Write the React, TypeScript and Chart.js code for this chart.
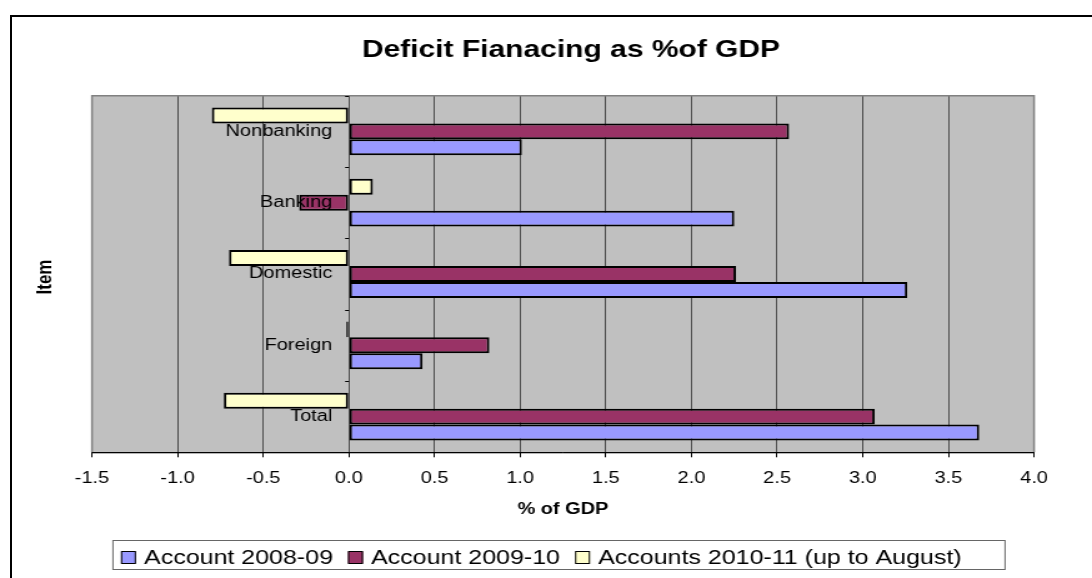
import React, { useEffect, useRef } from 'react';
import { Chart, registerables } from 'chart.js';

Chart.register(...registerables);

// ---- data (categories listed top to bottom as shown) ----
const categories = ['Nonbanking', 'Banking', 'Domestic', 'Foreign', 'Total'];
const account0809 = [1.01, 2.25, 3.26, 0.43, 3.68];
const account0910 = [2.57, -0.29, 2.26, 0.82, 3.07];
const accounts1011 = [-0.8, 0.14, -0.7, -0.015, -0.73];
const seriesLabels = ['Account 2008-09', 'Account 2009-10', 'Accounts 2010-11 (up to August)'];
const seriesColors = ['#9999FF', '#993366', '#FFFFCC'];
const xTickValues = [-1.5, -1.0, -0.5, 0.0, 0.5, 1.0, 1.5, 2.0, 2.5, 3.0, 3.5, 4.0];
const xTickLabels = ['-1.5', '-1.0', '-0.5', '0.0', '0.5', '1.0', '1.5', '2.0', '2.5', '3.0', '3.5', '4.0'];
const chartTitle = 'Deficit Fianacing as %of GDP';
const xAxisTitle = '% of GDP';
const yAxisTitle = 'Item';

const FONT = "'Liberation Sans', Arial, sans-serif";
const CW = 874;
const CH = 578;
const SX = 1092 / CW;

const decorPlugin = {
  id: 'decor',
  beforeDraw(chart: any) {
    const { ctx, chartArea: a } = chart;
    ctx.save();
    ctx.fillStyle = '#C0C0C0';
    ctx.fillRect(a.left, a.top, a.right - a.left, a.bottom - a.top);
    ctx.restore();
  },
  afterDraw(chart: any) {
    const { ctx, chartArea: a, scales } = chart;
    const xs = scales.x;
    const ys = scales.y;
    ctx.save();
    // plot frame
    ctx.strokeStyle = '#808080';
    ctx.lineWidth = 1.5;
    ctx.beginPath();
    ctx.moveTo(a.left, a.bottom);
    ctx.lineTo(a.left, a.top);
    ctx.lineTo(a.right, a.top);
    ctx.lineTo(a.right, a.bottom);
    ctx.stroke();
    ctx.strokeStyle = '#000';
    ctx.lineWidth = 1;
    ctx.beginPath();
    ctx.moveTo(a.left, a.bottom + 0.5);
    ctx.lineTo(a.right, a.bottom + 0.5);
    ctx.stroke();

    // category axis ticks at zero
    const zx = xs.getPixelForValue(0);
    ctx.beginPath();
    for (let i = 0; i <= categories.length; i++) {
      let py;
      if (i === 0) py = a.top;
      else if (i === categories.length) py = a.bottom;
      else py = (ys.getPixelForValue(i - 1) + ys.getPixelForValue(i)) / 2;
      ctx.moveTo(zx - 3, Math.round(py) + 0.5);
      ctx.lineTo(zx, Math.round(py) + 0.5);
    }
    ctx.stroke();

    // category labels
    ctx.fillStyle = '#000';
    ctx.font = `16px ${FONT}`;
    ctx.textAlign = 'right';
    ctx.textBaseline = 'middle';
    categories.forEach((c, i) => {
      ctx.fillText(c, zx - 13.3, ys.getPixelForValue(i));
    });

    // y axis title
    ctx.save();
    ctx.translate(36, (a.top + a.bottom) / 2 + 3);
    ctx.rotate(-Math.PI / 2);
    ctx.font = `bold 17px ${FONT}`;
    ctx.textAlign = 'center';
    ctx.textBaseline = 'middle';
    ctx.fillText(yAxisTitle, 0, 0);
    ctx.restore();

    // chart title
    ctx.font = `bold 24px ${FONT}`;
    ctx.textAlign = 'center';
    ctx.textBaseline = 'alphabetic';
    ctx.fillText(chartTitle, 457, 57);

    // legend
    const box = { left: 90.4, right: 804.4, top: 540, bottom: 569 };
    ctx.strokeStyle = '#666';
    ctx.lineWidth = 1;
    ctx.strokeRect(box.left, box.top + 0.5, box.right - box.left, box.bottom - box.top);
    ctx.font = `20px ${FONT}`;
    ctx.textAlign = 'left';
    ctx.textBaseline = 'alphabetic';
    let lx = box.left + 6.4;
    const baseY = 564;
    seriesLabels.forEach((lab, i) => {
      ctx.fillStyle = seriesColors[i];
      ctx.fillRect(lx, 551.5, 12, 12);
      ctx.strokeStyle = '#000';
      ctx.strokeRect(lx + 0.5, 551.5, 11, 12);
      lx += 12 + 6.5;
      ctx.fillStyle = '#000';
      ctx.fillText(lab, lx, baseY);
      lx += ctx.measureText(lab).width + 12;
    });
    ctx.restore();
  },
};

export default function App() {
  const ref = useRef<HTMLCanvasElement>(null);

  useEffect(() => {
    if (!ref.current) return;
    const common = {
      borderColor: '#000000',
      borderWidth: 2,
      borderSkipped: false,
      categoryPercentage: 0.67,
      barPercentage: 1.0,
    };
    const chart = new Chart(ref.current, {
      type: 'bar',
      data: {
        labels: categories,
        datasets: [
          { label: seriesLabels[2], data: accounts1011, backgroundColor: seriesColors[2], ...common },
          { label: seriesLabels[1], data: account0910, backgroundColor: seriesColors[1], ...common },
          { label: seriesLabels[0], data: account0809, backgroundColor: seriesColors[0], ...common },
        ],
      },
      options: {
        responsive: false,
        animation: false,
        indexAxis: 'y',
        layout: { padding: { top: 95.7, left: 73.6, right: 46.4, bottom: 0 } },
        plugins: {
          legend: { display: false },
          title: { display: false },
          tooltip: { enabled: false },
        },
        scales: {
          x: {
            type: 'linear',
            position: 'bottom',
            min: -1.5,
            max: 4,
            afterBuildTicks: (s: any) => {
              s.ticks = xTickValues.map((v) => ({ value: v }));
            },
            afterFit: (s: any) => {
              s.height = 125.7;
            },
            ticks: {
              autoSkip: false,
              maxRotation: 0,
              padding: 12,
              color: '#000',
              font: { size: 16, family: FONT },
              callback: (_v: any, i: number) => xTickLabels[i],
            },
            grid: { color: '#4d4d4d', lineWidth: 1, drawTicks: true, tickLength: 5, tickColor: '#000' },
            border: { display: true, color: '#000', width: 1 },
            title: {
              display: true,
              text: xAxisTitle,
              color: '#000',
              font: { size: 16, weight: 'bold', family: FONT },
              padding: { top: 0, bottom: 58.4 },
            },
          },
          y: { type: 'category', display: false, offset: true, grid: { offset: true } },
        },
      } as any,
      plugins: [decorPlugin],
    } as any);
    return () => chart.destroy();
  }, []);

  return (
    <div style={{ position: 'fixed', left: 0, top: 0, width: 1092, height: 578, overflow: 'hidden', background: '#fff' }}>
      <div
        style={{
          position: 'absolute',
          left: 10,
          top: 15,
          right: -20,
          bottom: -20,
          borderLeft: '2px solid #000',
          borderTop: '2px solid #000',
        }}
      />
      <canvas
        ref={ref}
        width={CW}
        height={CH}
        style={{ position: 'absolute', left: 0, top: 0, transform: `scaleX(${SX})`, transformOrigin: '0 0' }}
      />
    </div>
  );
}
